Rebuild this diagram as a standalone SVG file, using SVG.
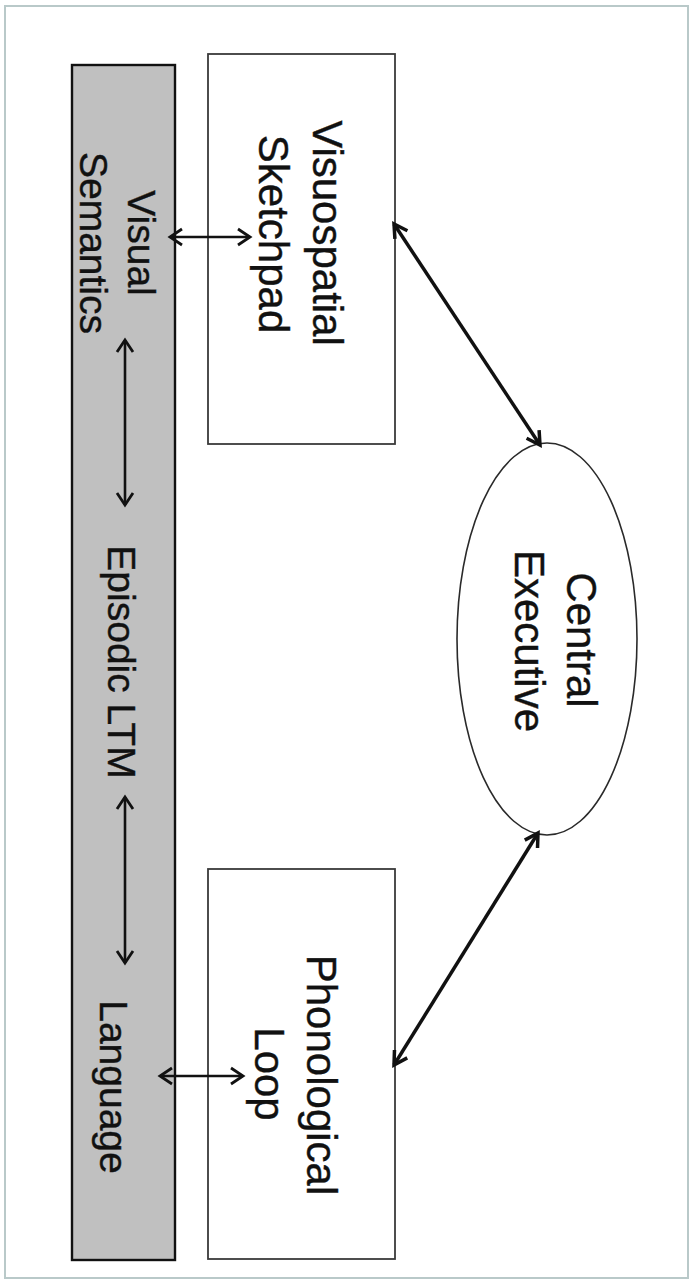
<svg xmlns="http://www.w3.org/2000/svg" width="694" height="1285" viewBox="0 0 694 1285">
  <defs>
    <style>
      .frame { fill: #ffffff; stroke: #b9c9c9; stroke-width: 2; }
      .box { fill: #ffffff; stroke: #3a3a3a; stroke-width: 1.8; }
      .bar { fill: #c0c0c0; stroke: #111111; stroke-width: 2.4; }
      .oval { fill: #ffffff; stroke: #2a2a2a; stroke-width: 1.6; }
      .lbl { font-family: "Liberation Sans", Arial, sans-serif; fill: #111111; stroke: #111111; stroke-width: 0.4; text-anchor: middle; }
      .big { font-size: 42px; }
      .mid { font-size: 39px; }
      .conn-thick { stroke: #111111; stroke-width: 3.5; fill: none; marker-start: url(#headL); marker-end: url(#headL); }
      .conn-thin { stroke: #111111; stroke-width: 2.6; fill: none; marker-start: url(#headS); marker-end: url(#headS); }
    </style>
    <marker id="headL" viewBox="0 0 20 20" markerWidth="20" markerHeight="20" refX="17" refY="10" orient="auto-start-reverse" markerUnits="userSpaceOnUse">
      <path d="M4,2.5 L17,10 L4,17.5" fill="none" stroke="#111111" stroke-width="3.5" stroke-linejoin="miter"/>
    </marker>
    <marker id="headS" viewBox="0 0 20 20" markerWidth="20" markerHeight="20" refX="16" refY="10" orient="auto-start-reverse" markerUnits="userSpaceOnUse">
      <path d="M4,2 L16,10 L4,18" fill="none" stroke="#111111" stroke-width="2.8" stroke-linejoin="miter"/>
    </marker>
  </defs>

  <rect class="frame" x="5" y="6" width="683" height="1272"/>

  <g id="episodic-ltm">
    <rect class="bar" x="72" y="65" width="103" height="1195"/>
    <text class="lbl mid" transform="translate(128,243) rotate(90)">Visual</text>
    <text class="lbl mid" transform="translate(80,243) rotate(90)">Semantics</text>
    <text class="lbl mid" transform="translate(108,662) rotate(90)">Episodic LTM</text>
    <text class="lbl mid" transform="translate(100,1087) rotate(90)">Language</text>
  </g>

  <g id="visuospatial-sketchpad">
    <rect class="box" x="208" y="54" width="187" height="390"/>
    <text class="lbl big" transform="translate(313,233) rotate(90)">Visuospatial</text>
    <text class="lbl big" transform="translate(259,234) rotate(90)">Sketchpad</text>
  </g>

  <g id="phonological-loop">
    <rect class="box" x="208" y="869" width="187" height="390"/>
    <text class="lbl big" transform="translate(307,1075) rotate(90)">Phonological</text>
    <text class="lbl big" transform="translate(255,1074) rotate(90)">Loop</text>
  </g>

  <g id="central-executive">
    <ellipse class="oval" cx="547" cy="639" rx="90" ry="196"/>
    <text class="lbl big" transform="translate(567,640) rotate(90)">Central</text>
    <text class="lbl big" transform="translate(515,641) rotate(90)">Executive</text>
  </g>

  <g id="connectors">
    <line class="conn-thick" x1="394" y1="224" x2="540" y2="445"/>
    <line class="conn-thick" x1="394" y1="1065" x2="538" y2="833"/>
    <line class="conn-thin" x1="170" y1="237" x2="250" y2="237"/>
    <line class="conn-thin" x1="160" y1="1076" x2="243" y2="1076"/>
    <line class="conn-thin" x1="125" y1="340" x2="125" y2="505"/>
    <line class="conn-thin" x1="125" y1="797" x2="125" y2="963"/>
  </g>
</svg>
